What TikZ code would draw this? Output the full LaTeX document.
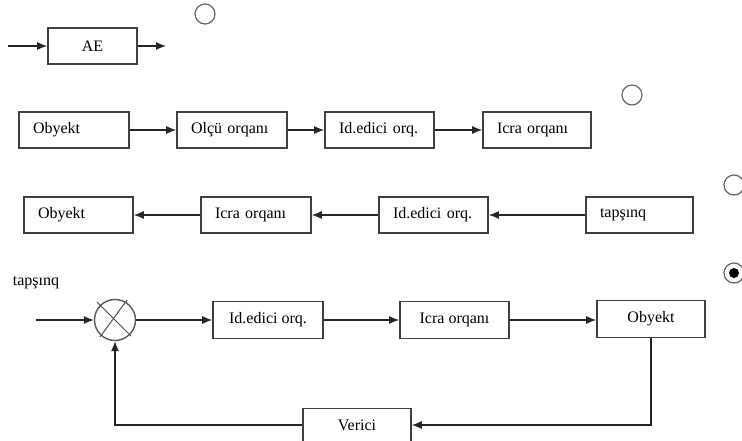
\documentclass[tikz,border=0pt]{standalone}
\usepackage{fontspec}
\setmainfont{Liberation Serif}
\usetikzlibrary{arrows.meta,calc}
\begin{document}
\begin{tikzpicture}[x=1pt,y=-1pt,
  box/.style={draw=black!75,line width=1.6pt,minimum height=36pt,inner sep=0pt,font=\fontsize{16}{18}\selectfont},
  lbox/.style={box,text width=#1-28pt,align=left,minimum width=#1},
  cbox/.style={box,minimum width=#1},
  conn/.style={line width=1.2pt,black!85,-{Latex[length=10pt,width=8pt]}},
  radio/.style={draw=black!60,line width=1.2pt,circle,minimum size=20pt,inner sep=0pt},
]
\useasboundingbox (0,0) rectangle (742,441);
% row 1
\node[cbox=89pt] (ae) at (92.5,46) {AE};
\coordinate (aein) at (8,46);
\coordinate (aeout) at (166,46);
\draw[conn] (aein) -- (ae.west);
\draw[conn] (ae.east) -- (aeout);
% row 2
\node[lbox=110pt] (a1) at (74,130) {Obyekt};
\node[lbox=110pt] (a2) at (232,130) {Olçü orqanı};
\node[lbox=109pt] (a3) at (379.5,130) {Id.edici orq.};
\node[lbox=108pt] (a4) at (537,130) {Icra orqanı};
\draw[conn] (a1) -- (a2);
\draw[conn] (a2) -- (a3);
\draw[conn] (a3) -- (a4);
% row 3
\node[lbox=109pt] (b1) at (78.5,215) {Obyekt};
\node[lbox=110pt] (b2) at (256,215) {Icra orqanı};
\node[lbox=109pt] (b3) at (433.5,215) {Id.edici orq.};
\node[lbox=107pt] (b4) at (639.5,215) {tapşınq};
\draw[conn] (b4) -- (b3);
\draw[conn] (b3) -- (b2);
\draw[conn] (b2) -- (b1);
% row 4
\node[font=\fontsize{16}{18}\selectfont] (tl) at (36,283) {tapşınq};
\node[draw=black!65,line width=1.4pt,circle,minimum size=41pt,inner sep=0pt] (sum) at (115,320) {};
\draw[line width=1pt,black!70] ($(sum)+(-18,-18)$) -- ($(sum)+(16,16)$);
\draw[line width=1pt,black!70] ($(sum)+(12,-20)$) -- ($(sum)+(-15,17)$);
\node[cbox=110pt,minimum height=37pt] (c1) at (268,320) {Id.edici orq.};
\node[cbox=109pt,minimum height=37pt] (c2) at (454.5,320) {Icra orqanı};
\node[cbox=108pt,minimum height=37pt] (c3) at (651,319) {Obyekt};
\node[cbox=108pt,minimum height=33pt] (ver) at (357,425) {Verici};
\coordinate (cin) at (36,320);
\draw[conn] (cin) -- (sum.west);
\draw[conn] (sum.east) -- (c1.west);
\draw[conn] (c1) -- (c2);
\draw[conn] (c2.east) -- (c2.east -| c3.west);
\draw[conn] (c3.south) |- (ver.east);
\draw[conn] (ver.west) -| (sum.south);
% radio buttons
\node[radio] (r1) at (205,14) {};
\node[radio] (r2) at (632,95) {};
\node[radio] (r3) at (734,185) {};
\node[radio] (r4) at (734,273) {};
\fill[black] (r4.center) circle (5pt);
\end{tikzpicture}
\end{document}
